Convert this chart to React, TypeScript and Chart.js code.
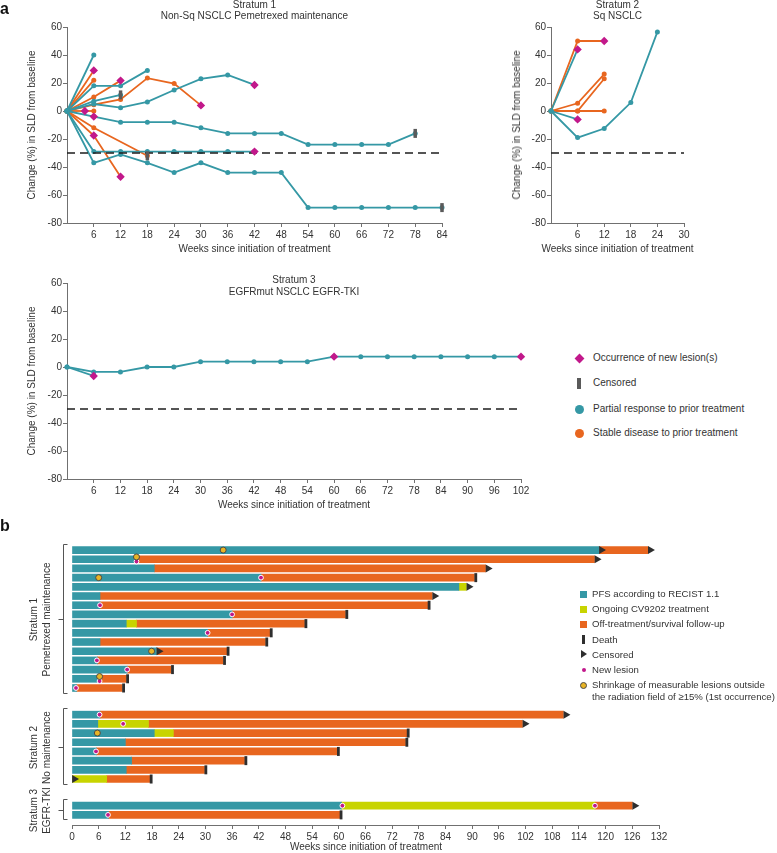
import React, { useEffect, useRef } from 'react';
import { Chart, registerables } from 'chart.js';

Chart.register(...registerables);

const FONT = '"Liberation Sans", Arial, Helvetica, sans-serif';
Chart.defaults.font.family = FONT;
Chart.defaults.font.size = 10;
Chart.defaults.color = '#333333';

const TEAL = '#3598a5';
const ORANGE = '#e8661f';
const MAGENTA = '#c2188b';
const CENSOR_GREY = '#5a5a5a';
const YELLOW = '#c8d400';
const GOLD = '#e8b425';
const DARK = '#2e2e2e';
const AXIS = '#707070';
const TEXT = '#333333';

type Pt = [number, number];
type Row = [number, number, number, string];

// ---------------- Panel a : change in SLD ----------------
const Y_TICKS = [-80, -60, -40, -20, 0, 20, 40, 60];
const S1_X_TICKS = [6, 12, 18, 24, 30, 36, 42, 48, 54, 60, 66, 72, 78, 84];
const S2_X_TICKS = [6, 12, 18, 24, 30];
const S3_X_TICKS = [6, 12, 18, 24, 30, 36, 42, 48, 54, 60, 66, 72, 78, 84, 90, 96, 102];
const THRESHOLD = -30;

// Stratum 1 – partial response to prior treatment (teal)
const S1_PR: Pt[][] = [
  [[0, 0], [6, 40]],
  [[0, 0], [6, 18], [12, 18], [18, 29]],
  [[0, 0], [6, 7], [12, 11.5]],
  [[0, 0], [6, 5], [12, 2.4], [18, 6.5], [24, 15], [30, 23], [36, 25.7], [42, 18.6]],
  [[0, 0], [6, -4], [12, -8], [18, -8], [24, -8], [30, -12], [36, -16], [42, -16], [48, -16], [54, -24], [60, -24], [66, -24], [72, -24], [78, -16]],
  [[0, 0], [6, -29], [12, -29], [18, -29], [24, -29], [30, -29], [36, -29], [42, -29]],
  [[0, 0], [6, -37], [12, -31], [18, -37], [24, -44], [30, -37], [36, -44], [42, -44], [48, -44], [54, -69], [60, -69], [66, -69], [72, -69], [78, -69], [84, -69]],
];
// Stratum 1 – stable disease to prior treatment (orange)
const S1_SD: Pt[][] = [
  [[0, 0], [6, 29]],
  [[0, 0], [6, 22]],
  [[0, 0], [6, 10], [12, 21.7]],
  [[0, 0], [6, 4.5], [12, 8.3], [18, 23.5], [24, 19.6], [30, 4]],
  [[0, 0], [6, 0]],
  [[0, 0], [6, -12], [18, -32]],
  [[0, 0], [6, -17.5], [12, -47]],
];
const S1_NEW: Pt[] = [[4, 0], [6, 29], [6, -4], [6, -17.5], [12, 21.7], [12, -47], [30, 4], [42, 18.6], [42, -29]];
const S1_CENS: Pt[] = [[12, 11.5], [18, -32], [78, -16], [84, -69]];

// Stratum 2
const S2_PR: Pt[][] = [
  [[0, 0], [6, 44]],
  [[0, 0], [6, -6]],
  [[0, 0], [6, -19], [12, -12.5], [18, 6], [24, 56.5]],
];
const S2_SD: Pt[][] = [
  [[0, 0], [6, 50], [12, 50]],
  [[0, 0], [6, 5.5], [12, 26.4]],
  [[0, 0], [6, 0], [12, 23]],
  [[0, 0], [6, 0], [12, 0]],
];
const S2_NEW: Pt[] = [[6, 44], [6, -6], [12, 50]];
const S2_CENS: Pt[] = [];

// Stratum 3
const S3_PR: Pt[][] = [
  [[0, 0], [6, -3.5], [12, -3.5], [18, 0], [24, 0], [30, 3.8], [36, 3.8], [42, 3.8], [48, 3.8], [54, 3.8], [60, 7.4], [66, 7.4], [72, 7.4], [78, 7.4], [84, 7.4], [90, 7.4], [96, 7.4], [102, 7.4]],
  [[0, 0], [6, -6.4]],
];
const S3_SD: Pt[][] = [];
const S3_NEW: Pt[] = [[6, -6.4], [60, 7.4], [102, 7.4]];
const S3_CENS: Pt[] = [];

// ---------------- Panel b : swimmer plot ----------------
const B_X_TICKS = [0, 6, 12, 18, 24, 30, 36, 42, 48, 54, 60, 66, 72, 78, 84, 90, 96, 102, 108, 114, 120, 126, 132];
// row: [PFS end, ongoing CV9202 end, follow-up end, outcome D=death C=censored]
const B_S1_ROWS: Row[] = [
  [118.5, 0, 129.5, 'C'],
  [14.5, 0, 117.5, 'C'],
  [18.5, 0, 93, 'C'],
  [42.5, 0, 90.5, 'D'],
  [87, 88.7, 88.7, 'C'],
  [6.3, 0, 81, 'C'],
  [6.3, 0, 80, 'D'],
  [36, 0, 61.5, 'D'],
  [12.2, 14.5, 52.3, 'D'],
  [30.5, 0, 44.5, 'D'],
  [6.3, 0, 43.5, 'D'],
  [19, 0, 34.8, 'D'],
  [5.7, 0, 34, 'D'],
  [12.4, 0, 22.3, 'D'],
  [6.2, 0, 12.2, 'D'],
  [1, 0, 11.3, 'D'],
];
// [row index, week]
const B_S1_NEW: Pt[] = [[1, 14.5], [3, 42.5], [6, 6.3], [7, 36], [9, 30.5], [12, 5.6], [13, 12.4], [14, 6.2], [15, 0.9]];
const B_S1_SHRINK: Pt[] = [[0, 34], [1, 14.5], [3, 6], [11, 17.9], [14, 6.2]];
const B_S1_MIDCENS: Pt[] = [[0, 118.5], [11, 19]];

const B_S2_ROWS: Row[] = [
  [6.3, 0, 110.5, 'C'],
  [5.8, 17.2, 101.3, 'C'],
  [18.5, 22.8, 75.3, 'D'],
  [12, 0, 75, 'D'],
  [5.5, 0, 59.6, 'D'],
  [13.4, 0, 38.8, 'D'],
  [12.2, 0, 29.8, 'D'],
  [0, 7.8, 17.5, 'D'],
];
const B_S2_NEW: Pt[] = [[0, 6.2], [1, 11.5], [4, 5.4]];
const B_S2_SHRINK: Pt[] = [[2, 5.7]];
const B_S2_MIDCENS: Pt[] = [[7, 0]];

const B_S3_ROWS: Row[] = [
  [60.6, 117.6, 126, 'C'],
  [8.2, 0, 60.2, 'D'],
];
const B_S3_NEW: Pt[] = [[0, 60.8], [0, 117.6], [1, 8.1]];
const B_S3_SHRINK: Pt[] = [];
const B_S3_MIDCENS: Pt[] = [];

const B_GROUPS = [
  { title: 'Stratum 1', sub: 'Pemetrexed maintenance', rows: B_S1_ROWS, newL: B_S1_NEW, shrink: B_S1_SHRINK, mid: B_S1_MIDCENS },
  { title: 'Stratum 2', sub: 'No maintenance', rows: B_S2_ROWS, newL: B_S2_NEW, shrink: B_S2_SHRINK, mid: B_S2_MIDCENS },
  { title: 'Stratum 3', sub: 'EGFR-TKI', rows: B_S3_ROWS, newL: B_S3_NEW, shrink: B_S3_SHRINK, mid: B_S3_MIDCENS },
];
const GROUP_GAP = 2.9;

// ---------------- helpers ----------------
const tickArray = (values: number[]) => (scale: any) => {
  scale.ticks = values.map((v) => ({ value: v }));
};

function axisCommon() {
  return {
    ticks: { autoSkip: false, maxRotation: 0, color: TEXT, font: { size: 10, family: FONT } },
    grid: { display: true, drawOnChartArea: false, drawTicks: true, tickLength: 4, color: AXIS, offset: false },
    border: { display: true, color: AXIS, width: 1 },
  };
}

function makeSld(p: any) {
  const toXY = (pts: Pt[]) => pts.map(([x, y]) => ({ x, y }));
  const lineDs = (pts: Pt[], color: string) => ({
    data: toXY(pts),
    showLine: true,
    borderColor: color,
    backgroundColor: color,
    borderWidth: 1.8,
    pointRadius: 2.5,
    pointHoverRadius: 2.5,
    pointBorderWidth: 0,
    tension: 0,
    clip: false,
    order: 3,
  });
  const datasets: any[] = [
    { data: toXY(p.newL), pointStyle: 'rectRot', pointRadius: 4.2, backgroundColor: MAGENTA, borderColor: MAGENTA, pointBorderWidth: 0, clip: false, order: 0 },
    { data: toXY(p.cens), pointStyle: 'line', pointRotation: 90, pointRadius: 4.5, pointBorderWidth: 3.5, borderColor: CENSOR_GREY, backgroundColor: CENSOR_GREY, clip: false, order: 1 },
    { data: [{ x: 0, y: THRESHOLD }, { x: p.xMax, y: THRESHOLD }], showLine: true, borderColor: '#1e1e1e', borderWidth: 1.3, borderDash: [8, 5], pointRadius: 0, clip: false, order: 2 },
    ...p.pr.map((s: Pt[]) => lineDs(s, TEAL)),
    ...p.sd.map((s: Pt[]) => lineDs(s, ORANGE)),
  ];
  const ax = axisCommon();
  return {
    type: 'scatter',
    data: { datasets },
    options: {
      responsive: false,
      animation: false,
      events: [],
      layout: { padding: { left: 0, right: p.padRight, top: p.padTop, bottom: 0 } },
      plugins: { legend: { display: false }, tooltip: { enabled: false } },
      scales: {
        x: {
          type: 'linear', min: 0, max: p.xMax, offset: false,
          afterBuildTicks: tickArray(p.xTicks),
          afterFit: (s: any) => { s.height = 22; },
          ticks: { ...ax.ticks, padding: 2 },
          grid: ax.grid, border: ax.border,
        },
        y: {
          type: 'linear', min: -80, max: 60, offset: false,
          afterBuildTicks: tickArray(Y_TICKS),
          afterFit: (s: any) => { s.width = p.yAxisWidth; },
          ticks: { ...ax.ticks, padding: 1 },
          grid: ax.grid, border: ax.border,
        },
      },
    },
  };
}

function layoutGroups() {
  const out: any[] = [];
  let start = 0;
  B_GROUPS.forEach((g, i) => {
    if (i > 0) start += B_GROUPS[i - 1].rows.length - 1 + GROUP_GAP;
    out.push({ ...g, start });
  });
  return out;
}

function makeSwimmer() {
  const groups = layoutGroups();
  const teal: any[] = [], yellow: any[] = [], orange: any[] = [];
  const death: any[] = [], cens: any[] = [], newL: any[] = [], shrink: any[] = [];
  const positions: number[] = [];
  groups.forEach((g) => {
    g.rows.forEach((r: Row, i: number) => {
      const y = g.start + i;
      positions.push(y);
      const [pfs, ongoing, follow, outcome] = r;
      if (pfs > 0) teal.push({ x: [0, pfs], y });
      if (ongoing > pfs) yellow.push({ x: [pfs, ongoing], y });
      const s = Math.max(pfs, ongoing);
      if (follow > s + 0.01) orange.push({ x: [s, follow], y });
      if (outcome === 'D') death.push({ x: follow + 0.3, y });
      else cens.push({ x: follow + 0.55, y });
    });
    g.mid.forEach(([ri, w]: Pt) => cens.push({ x: w + 0.55, y: g.start + ri }));
    g.newL.forEach(([ri, w]: Pt) => {
      const both = g.shrink.some(([sr, sw]: Pt) => sr === ri && Math.abs(sw - w) < 1);
      newL.push({ x: w, y: g.start + ri + (both ? 0.25 : 0) });
    });
    g.shrink.forEach(([ri, w]: Pt) => {
      const both = g.newL.some(([nr, nw]: Pt) => nr === ri && Math.abs(nw - w) < 1);
      shrink.push({ x: w, y: g.start + ri - (both ? 0.25 : 0) });
    });
  });
  const last = positions[positions.length - 1];
  const barDs = (data: any[], color: string) => ({
    type: 'bar', indexAxis: 'y', data, backgroundColor: color, borderWidth: 0,
    grouped: false, barPercentage: 1, categoryPercentage: 1, maxBarThickness: 7, order: 5,
  });
  const sc = (data: any[], o: any) => ({ type: 'scatter', indexAxis: 'x', data, clip: false, ...o });
  const datasets: any[] = [
    sc(shrink, { pointStyle: 'circle', pointRadius: 3, backgroundColor: GOLD, borderColor: '#4a4a4a', pointBorderWidth: 1, order: 0 }),
    sc(newL, { pointStyle: 'circle', pointRadius: 2.4, backgroundColor: MAGENTA, borderColor: '#ffffff', pointBorderWidth: 1, order: 1 }),
    sc(cens, { pointStyle: 'triangle', pointRotation: 90, pointRadius: 4.6, backgroundColor: DARK, borderColor: DARK, pointBorderWidth: 0, order: 2 }),
    sc(death, { pointStyle: 'line', pointRotation: 90, pointRadius: 4.5, borderColor: DARK, backgroundColor: DARK, pointBorderWidth: 2.8, order: 2 }),
    barDs(teal, TEAL),
    barDs(yellow, YELLOW),
    barDs(orange, ORANGE),
  ];

  const bracketPlugin = {
    id: 'brackets',
    afterDraw(chart: any) {
      const ctx = chart.ctx;
      const ys = chart.scales.y;
      ctx.save();
      ctx.strokeStyle = '#555555';
      ctx.lineWidth = 1;
      ctx.fillStyle = TEXT;
      ctx.font = `10px ${FONT}`;
      ctx.textAlign = 'center';
      ctx.textBaseline = 'middle';
      groups.forEach((g) => {
        const top = Math.round(ys.getPixelForValue(g.start - 0.7)) + 0.5;
        const bot = Math.round(ys.getPixelForValue(g.start + g.rows.length - 1 + 0.5)) + 0.5;
        const mid = Math.round((top + bot) / 2) + 0.5;
        const bx = 63.5;
        ctx.beginPath();
        ctx.moveTo(67.5, top);
        ctx.lineTo(bx, top);
        ctx.lineTo(bx, bot);
        ctx.lineTo(67.5, bot);
        ctx.moveTo(bx, mid);
        ctx.lineTo(58.5, mid);
        ctx.stroke();
        [[34, g.title], [47, g.sub]].forEach(([x, t]: any) => {
          ctx.save();
          ctx.translate(x, mid);
          ctx.rotate(-Math.PI / 2);
          ctx.fillText(t, 0, 0);
          ctx.restore();
        });
      });
      ctx.restore();
    },
  };

  const ax = axisCommon();
  return {
    type: 'bar',
    data: { datasets },
    options: {
      responsive: false,
      animation: false,
      events: [],
      indexAxis: 'y',
      layout: { padding: { left: 72, right: 21, top: 10, bottom: 0 } },
      plugins: { legend: { display: false }, tooltip: { enabled: false } },
      scales: {
        x: {
          type: 'linear', min: 0, max: 132, offset: false,
          afterBuildTicks: tickArray(B_X_TICKS),
          afterFit: (s: any) => { s.height = 25; },
          ticks: { ...ax.ticks, padding: 2 },
          grid: ax.grid, border: ax.border,
        },
        y: {
          type: 'linear', reverse: true, min: -0.55, max: last + 1.1, offset: false, display: false,
          afterBuildTicks: tickArray(positions),
          grid: { offset: false },
        },
      },
    },
    plugins: [bracketPlugin],
  };
}

function ChartBox({ left, top, width, height, make }: any) {
  const ref = useRef<HTMLCanvasElement>(null);
  useEffect(() => {
    const chart = new Chart(ref.current as HTMLCanvasElement, make());
    return () => chart.destroy();
  }, []);
  return (
    <canvas ref={ref} width={width} height={height}
      style={{ position: 'absolute', left, top, width, height }} />
  );
}

function T({ x, y, children, anchor = 'start', size = 10, rotate = false, bold = false }: any) {
  const lh = Math.round(size * 1.2);
  const style: any = {
    position: 'absolute', whiteSpace: 'nowrap', fontSize: size, lineHeight: `${lh}px`,
    fontWeight: bold ? 'bold' : 'normal', color: bold ? '#111' : TEXT,
  };
  if (rotate) {
    style.left = x; style.top = y;
    style.transform = 'translate(-50%, -50%) rotate(-90deg)';
  } else {
    style.left = x; style.top = y - lh / 2;
    if (anchor === 'middle') style.transform = 'translateX(-50%)';
  }
  return <div style={style}>{children}</div>;
}

function Mark({ x, y, w, h, style }: any) {
  return <div style={{ position: 'absolute', left: x - w / 2, top: y - h / 2, width: w, height: h, ...style }} />;
}

export default function App() {
  const yTitle = 'Change (%) in SLD from baseline';
  const xTitle = 'Weeks since initiation of treatment';
  const legA = [358, 383, 409, 433];
  const legB = [594, 609.2, 624.4, 639.6, 654.8, 670, 685.2];
  const lb = 9.6;
  return (
    <div style={{ position: 'absolute', left: 0, top: 0, width: 777, height: 853, background: '#fff', fontFamily: FONT, overflow: 'hidden' }}>
      <ChartBox left={0} top={0} width={460} height={245}
        make={() => makeSld({ xMax: 84, xTicks: S1_X_TICKS, pr: S1_PR, sd: S1_SD, newL: S1_NEW, cens: S1_CENS, yAxisWidth: 67, padRight: 18, padTop: 27 })} />
      <ChartBox left={490} top={0} width={212} height={245}
        make={() => makeSld({ xMax: 30, xTicks: S2_X_TICKS, pr: S2_PR, sd: S2_SD, newL: S2_NEW, cens: S2_CENS, yAxisWidth: 61, padRight: 18, padTop: 27 })} />
      <ChartBox left={0} top={256} width={540} height={245}
        make={() => makeSld({ xMax: 102, xTicks: S3_X_TICKS, pr: S3_PR, sd: S3_SD, newL: S3_NEW, cens: S3_CENS, yAxisWidth: 67, padRight: 19, padTop: 27 })} />
      <ChartBox left={0} top={535} width={680} height={315} make={makeSwimmer} />

      <T x={0} y={8} size={16} bold>a</T>
      <T x={0} y={525} size={16} bold>b</T>

      <T x={254.5} y={4.5} anchor="middle">Stratum 1</T>
      <T x={254.5} y={16} anchor="middle">Non-Sq NSCLC Pemetrexed maintenance</T>
      <T x={617.5} y={4.5} anchor="middle">Stratum 2</T>
      <T x={617.5} y={16} anchor="middle">Sq NSCLC</T>
      <T x={294} y={280} anchor="middle">Stratum 3</T>
      <T x={294} y={292} anchor="middle">EGFRmut NSCLC EGFR-TKI</T>

      <T x={32} y={125} rotate>{yTitle}</T>
      <T x={517} y={125} rotate>{yTitle}</T>
      <T x={32} y={381} rotate>{yTitle}</T>

      <T x={254.5} y={249} anchor="middle">{xTitle}</T>
      <T x={617.5} y={249} anchor="middle">{xTitle}</T>
      <T x={294} y={505} anchor="middle">{xTitle}</T>
      <T x={366} y={847} anchor="middle">{xTitle}</T>

      {/* legend panel a */}
      <Mark x={579} y={legA[0]} w={7} h={7} style={{ background: MAGENTA, transform: 'rotate(45deg)' }} />
      <Mark x={579} y={legA[1]} w={4} h={11} style={{ background: CENSOR_GREY }} />
      <Mark x={579} y={legA[2]} w={9} h={9} style={{ background: TEAL, borderRadius: '50%' }} />
      <Mark x={579} y={legA[3]} w={9} h={9} style={{ background: ORANGE, borderRadius: '50%' }} />
      <T x={593} y={legA[0]}>Occurrence of new lesion(s)</T>
      <T x={593} y={legA[1]}>Censored</T>
      <T x={593} y={legA[2]}>Partial response to prior treatment</T>
      <T x={593} y={legA[3]}>Stable disease to prior treatment</T>

      {/* legend panel b */}
      <Mark x={583.5} y={legB[0]} w={7} h={7} style={{ background: TEAL }} />
      <Mark x={583.5} y={legB[1]} w={7} h={7} style={{ background: YELLOW }} />
      <Mark x={583.5} y={legB[2]} w={7} h={7} style={{ background: ORANGE }} />
      <Mark x={583.5} y={legB[3]} w={3} h={9} style={{ background: DARK }} />
      <div style={{ position: 'absolute', left: 581, top: legB[4] - 4.5, width: 0, height: 0, borderTop: '4.5px solid transparent', borderBottom: '4.5px solid transparent', borderLeft: '6px solid ' + DARK }} />
      <Mark x={583.5} y={legB[5]} w={4} h={4} style={{ background: MAGENTA, borderRadius: '50%' }} />
      <Mark x={583.5} y={legB[6]} w={7} h={7} style={{ background: GOLD, borderRadius: '50%', border: '1px solid #4a4a4a', boxSizing: 'border-box' }} />
      <T x={592} y={legB[0]} size={lb}>PFS according to RECIST 1.1</T>
      <T x={592} y={legB[1]} size={lb}>Ongoing CV9202 treatment</T>
      <T x={592} y={legB[2]} size={lb}>Off-treatment/survival follow-up</T>
      <T x={592} y={legB[3]} size={lb}>Death</T>
      <T x={592} y={legB[4]} size={lb}>Censored</T>
      <T x={592} y={legB[5]} size={lb}>New lesion</T>
      <T x={592} y={legB[6]} size={lb}>Shrinkage of measurable lesions outside</T>
      <T x={592} y={legB[6] + 12} size={lb}>the radiation field of ≥15% (1st occurrence)</T>
    </div>
  );
}
